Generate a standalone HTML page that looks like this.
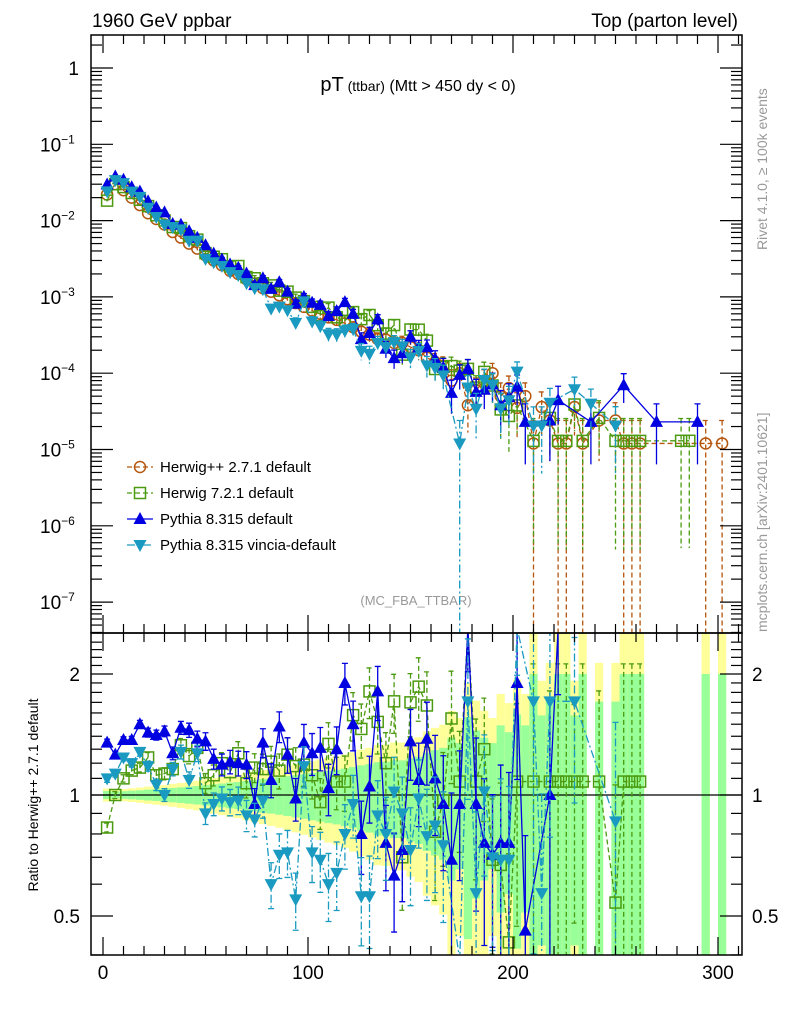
<!DOCTYPE html>
<html><head><meta charset="utf-8">
<style>
html,body{margin:0;padding:0;background:#fff;width:786px;height:1024px;overflow:hidden;}
svg{display:block;font-family:"Liberation Sans",sans-serif;}
</style></head>
<body>
<svg id="chart" width="786" height="1024" viewBox="0 0 786 1024" xmlns="http://www.w3.org/2000/svg">
<defs>
<clipPath id="cm"><rect x="91" y="35" width="651" height="598"/></clipPath>
<clipPath id="cr"><rect x="91" y="633" width="651" height="322"/></clipPath>
</defs>
<text x="92" y="27" font-size="19">1960 GeV ppbar</text>
<text x="738" y="27" font-size="19" text-anchor="end">Top (parton level)</text>
<text x="418" y="91" text-anchor="middle"><tspan font-size="20">pT</tspan><tspan font-size="14"> (ttbar)</tspan><tspan font-size="16"> (Mtt &gt; 450 dy &lt; 0)</tspan></text>
<text x="416" y="605" font-size="13" fill="#999" text-anchor="middle">(MC_FBA_TTBAR)</text>
<text transform="translate(767,250) rotate(-90)" font-size="14" fill="#999">Rivet 4.1.0, ≥ 100k events</text>
<text transform="translate(767,632) rotate(-90)" font-size="14" fill="#999">mcplots.cern.ch [arXiv:2401.10621]</text>
<text transform="translate(38,795) rotate(-90)" font-size="14" text-anchor="middle">Ratio to Herwig++ 2.7.1 default</text>
<g id="bands" clip-path="url(#cr)"></g>
<line x1="91" y1="795" x2="742" y2="795" stroke="#000" stroke-width="1.2"/>
<g id="mainS" clip-path="url(#cm)"></g>
<g id="ratS" clip-path="url(#cr)"></g>
<g id="axes"></g>
<rect x="91" y="35" width="651" height="598" fill="none" stroke="#000" stroke-width="1.5"/>
<rect x="91" y="633" width="651" height="322" fill="none" stroke="#000" stroke-width="1.5"/>
<g id="legend"></g>
</svg>
<script>
const binCenters=[2,6,10,14,18,22,26,30,34,38,42,46,50,54,58,62,66,70,74,78,82,86,90,94,98,102,106,110,114,118,122,126,130,134,138,142,146,150,154,158,162,166,170,174,178,182,186,190,194,198,202,206,210,214,218,222,226,230,234,238,242,246,250,254,258,262,266,270,274,278,282,286,290,294,298,302,306];
const herwigpp=[2.2e-2,3.0e-2,2.5e-2,2.0e-2,1.6e-2,1.25e-2,1.05e-2,8.9e-3,7.1e-3,6.0e-3,
5.0e-3,4.3e-3,3.5e-3,3.0e-3,2.6e-3,2.2e-3,2.0e-3,1.7e-3,1.5e-3,1.3e-3,
1.17e-3,1.05e-3,9.3e-4,8.3e-4,7.4e-4,6.6e-4,6.0e-4,5.4e-4,5.0e-4,4.5e-4,
4.0e-4,3.5e-4,3.2e-4,2.8e-4,2.75e-4,2.5e-4,2.5e-4,2.2e-4,2.0e-4,1.6e-4,
1.4e-4,1.25e-4,8e-5,1.0e-4,3.8e-5,6e-5,8e-5,1.0e-4,5e-5,6.4e-5,
3.5e-5,5e-5,1.2e-5,3.6e-5,2.4e-5,1.2e-5,1.2e-5,3.6e-5,1.2e-5,0,
2.4e-5,0,2.4e-5,1.2e-5,1.2e-5,1.2e-5,0,0,0,0,
0,0,0,1.2e-5,0,1.2e-5,0];
const herwig7Ratio=[0.83,1.0,1.10,1.15,1.17,1.24,1.12,1.13,1.16,1.33,1.25,1.31,1.07,1.12,1.20,1.14,1.27,1.07,1.17,1.16,
1.21,1.15,1.26,1.18,1.19,1.12,0.96,1.34,1.08,1.08,1.58,1.46,1.81,1.52,1.2,1.71,0.70,1.70,1.86,1.67,
0.81,0.97,1.55,1.08,3.0,1.08,1.30,0.69,0.67,0.43,1.08,null,1.08,null,1.08,1.08,1.08,1.08,1.08,null,
1.08,null,0.54,1.08,1.08,1.08,null,null,null,null,null,null,null,null,null,null,null];
const pythiaRatio=[1.35,1.26,1.37,1.37,1.50,1.43,1.41,1.44,1.27,1.47,1.45,1.38,1.36,1.23,1.19,1.21,1.20,1.19,0.95,1.35,
1.09,1.48,1.26,0.98,1.35,1.27,1.31,1.04,1.30,1.90,1.50,0.80,1.05,1.81,0.76,0.63,0.73,1.36,1.09,1.38,
1.10,0.95,0.69,0.95,3.0,0.95,0.76,0.71,0.76,0.76,1.90,0.46,null,null,1.0,3.7,null,null,null,null,
null,null,null,5.8,null,null,null,null,null,null,null,null,null,null,null,null,null];
const vinciaRatio=[1.10,1.13,1.24,1.20,1.28,1.18,1.06,1.0,1.16,1.28,1.09,1.27,0.90,0.95,0.98,0.96,0.97,0.89,0.87,0.97,
0.60,0.71,0.72,0.55,1.18,0.72,0.69,0.60,0.64,0.80,0.95,0.56,0.56,0.89,0.80,1.02,0.90,0.73,0.98,0.79,
0.84,0.75,null,0.12,1.71,0.57,1.02,0.70,0.69,0.69,3.0,null,1.71,0.57,1.71,null,null,1.71,null,null,
null,null,0.86,null,null,null,null,null,null,null,null,null,null,null,null,null,null];
const pythiaExtraX=[238,270,290], pythiaExtraY=[2.3e-5,2.3e-5,2.3e-5];
const vinciaExtraX=[238], vinciaExtraY=[4e-5];
const herwig7ExtraX=[282,286], herwig7ExtraY=[1.3e-5,1.3e-5];
const mainTicks=[1,1e-1,1e-2,1e-3,1e-4,1e-5,1e-6,1e-7];
const mainTickExp=["","−1","−2","−3","−4","−5","−6","−7"];
const ratioTicks=[2,1,0.5];
const xTicks=[0,100,200,300];
const EVW=1.2e-5;

const NS="http://www.w3.org/2000/svg";
const X=v=>103+2.05*v;
const Ym=v=>68-76.3*Math.log10(v);
const Yr=r=>795-402*Math.log10(r);
function mk(tag,attrs,parent){const e=document.createElementNS(NS,tag);for(const k in attrs)e.setAttribute(k,attrs[k]);parent.appendChild(e);return e;}
const bands=document.getElementById('bands'),mainS=document.getElementById('mainS'),ratS=document.getElementById('ratS'),axes=document.getElementById('axes'),legend=document.getElementById('legend');
const relErr=v=>Math.sqrt(EVW/v);
const clampM=y=>Math.max(30,Math.min(640,y));
const clampR=y=>Math.max(628,Math.min(960,y));

herwigpp.forEach((v,i)=>{ if(!v) return; const e=relErr(v);
  const x0=X(binCenters[i]-2),w=X(binCenters[i]+2)-x0;
  const yl=[1+1.6*e,Math.max(1-1.6*e,0.3)], gl=[1+e,Math.max(1-e,0.3)];
  const b1=mk('rect',{x:x0,y:clampR(Yr(yl[0])),width:w,height:clampR(Yr(yl[1]))-clampR(Yr(yl[0])),fill:'#ffff99'},bands);
  
  
  const b2=mk('rect',{x:x0,y:clampR(Yr(gl[0])),width:w,height:clampR(Yr(gl[1]))-clampR(Yr(gl[0])),fill:'#99ff99'},bands);
  
  
});

const series=[
 {name:'herwigpp',color:'#b5560f',dash:'5,3',marker:'circle',label:'Herwig++ 2.7.1 default'},
 {name:'herwig7',color:'#4b9a0f',dash:'5,3',marker:'square',ratio:herwig7Ratio,ex:herwig7ExtraX,ey:herwig7ExtraY,label:'Herwig 7.2.1 default'},
 {name:'pythia',color:'#0000e0',dash:'',marker:'up',ratio:pythiaRatio,ex:pythiaExtraX,ey:pythiaExtraY,label:'Pythia 8.315 default'},
 {name:'vincia',color:'#1a9ac0',dash:'8,3,2,3',marker:'down',ratio:vinciaRatio,ex:vinciaExtraX,ey:vinciaExtraY,label:'Pythia 8.315 vincia-default'}
];
function marker(g,type,x,y,c,nm){
  let e;
  if(type==='circle') e=mk('circle',{cx:x,cy:y,r:5.5,fill:'none',stroke:c,'stroke-width':1.5},g);
  else if(type==='square') e=mk('rect',{x:x-5.5,y:y-5.5,width:11,height:11,fill:'none',stroke:c,'stroke-width':1.5},g);
  else if(type==='up') e=mk('polygon',{points:`${x},${y-7} ${x-6.5},${y+5} ${x+6.5},${y+5}`,fill:c},g);
  else e=mk('polygon',{points:`${x},${y+7} ${x-6.5},${y-5} ${x+6.5},${y-5}`,fill:c},g);
  
  
}
series.forEach(s=>{
  let pts=[];
  herwigpp.forEach((h,i)=>{
    let v = s.ratio ? (h && s.ratio[i]!=null ? h*s.ratio[i] : 0) : h;
    if(v>0) pts.push([binCenters[i],v,s.ratio?s.ratio[i]:1]);
  });
  if(s.ex) s.ex.forEach((x,k)=>pts.push([x,s.ey[k],null]));
  pts.sort((a,b)=>a[0]-b[0]);
  const gm=mk('g',{},mainS);
  
  
  const ln=mk('polyline',{points:pts.map(p=>X(p[0])+','+clampM(Ym(p[1]))).join(' '),fill:'none',stroke:s.color,'stroke-width':1.3,'stroke-dasharray':s.dash},gm);
  
  
  pts.forEach(p=>{const e=relErr(p[1]);const x=X(p[0]);
    const lo=p[1]*(1-e)>0?clampM(Ym(p[1]*(1-e))):640;
    const hi=clampM(Ym(p[1]*(1+e)));
    const eb=mk('path',{d:`M${x},${hi}V${lo}M${x-3},${hi}h6`,stroke:s.color,'stroke-width':1.3,'stroke-dasharray':s.dash},gm);
    
    
    const my=Ym(p[1]); if(my<640) marker(gm,s.marker,x,my,s.color,s.name+'-point');
  });
  if(!s.ratio) return;
  const rp=pts.filter(p=>p[2]!=null);
  const gr=mk('g',{},ratS);
  
  
  const rl=mk('polyline',{points:rp.map(p=>X(p[0])+','+clampR(Yr(p[2]))).join(' '),fill:'none',stroke:s.color,'stroke-width':1.3,'stroke-dasharray':s.dash},gr);
  
  
  rp.forEach(p=>{const e=relErr(p[1]);const x=X(p[0]);
    const lo=p[2]*(1-e)>0?clampR(Yr(p[2]*(1-e))):960;
    const hi=clampR(Yr(p[2]*(1+e)));
    const eb=mk('path',{d:`M${x},${hi}V${lo}M${x-3},${hi}h6M${x-3},${lo}h6`,stroke:s.color,'stroke-width':1.3,'stroke-dasharray':s.dash},gr);
    
    
    const ry=Yr(p[2]); if(ry>620 && ry<965) marker(gr,s.marker,x,ry,s.color,s.name+'-ratio-point');
  });
});

function tk(x1,y1,x2,y2){const l=mk('line',{x1,y1,x2,y2,stroke:'#000','stroke-width':1.2},axes);}
for(let d=-8;d<=0;d++)for(let k=1;k<=9;k++){const y=Ym(k*Math.pow(10,d));if(y<35||y>633)continue;const L=k===1?22:11;tk(91,y,91+L,y);tk(742,y,742-L,y);}
mainTicks.forEach((v,i)=>{const t=mk('text',{x:i===0?79:40,y:Ym(v)+7,'font-size':19,'text-anchor':i===0?'end':'start'},axes);
  
  
  if(i===0)t.textContent='1';else{t.textContent='10';const s=mk('tspan',{dy:-8,'font-size':12},t);s.textContent=mainTickExp[i];}});
[0.4,0.5,0.6,0.7,0.8,0.9,1,2].forEach(r=>{const y=Yr(r);const L=(r===1||r===2||r===0.5)?22:11;tk(91,y,91+L,y);tk(742,y,742-L,y);});
for(let r=1.1;r<2.5;r+=0.1){if(Math.abs(r-2)<0.01)continue;const y=Yr(r);tk(91,y,102,y);tk(742,y,731,y);}
ratioTicks.forEach(r=>{[[80,'end'],[752,'start']].forEach(([x,a])=>{const t=mk('text',{x,y:Yr(r)+7,'font-size':19,'text-anchor':a},axes);
  
  
  t.textContent=String(r);});});
for(let v=0;v<=310;v+=10){const x=X(v);const L=v%100===0?18:9;tk(x,633,x,633-L);tk(x,35,x,35+L);tk(x,955,x,955-L);tk(x,633,x,633+L);}
xTicks.forEach(v=>{const t=mk('text',{x:X(v),y:979,'font-size':19,'text-anchor':'middle'},axes);
  
  
  t.textContent=String(v);});

series.forEach((s,i)=>{const y=467+i*26;const g=mk('g',{},legend);
  
  
  mk('line',{x1:127,y1:y,x2:153,y2:y,stroke:s.color,'stroke-width':1.3,'stroke-dasharray':s.dash},g);
  marker(g,s.marker,140,y,s.color,'legend-marker');
  const t=mk('text',{x:160,y:y+5,'font-size':15},g);t.textContent=s.label;
  
  
});
</script>
</body></html>
